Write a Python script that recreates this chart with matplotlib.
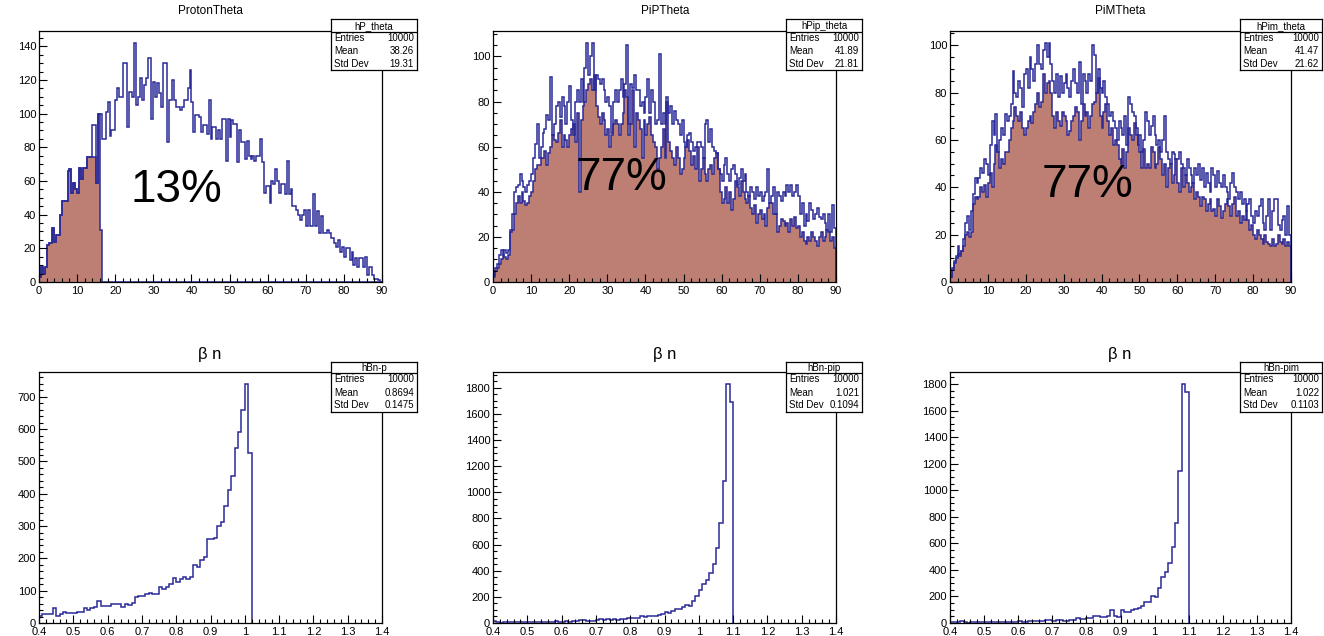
import numpy as np
import matplotlib
matplotlib.use("Agg")
import matplotlib.pyplot as plt
from matplotlib.ticker import MultipleLocator, FuncFormatter

plt.rcParams['font.family'] = ['Liberation Sans', 'DejaVu Sans']

# ---- data ----
# theta histograms: 180 bins of 0.5 deg from 0 to 90
proton_theta = [
    3, 9, 5, 9, 22, 23, 23, 32, 24, 28, 28, 40, 48, 48, 48, 66, 67, 53, 59, 55,
    53, 68, 61, 68, 68, 74, 74, 74, 93, 93, 59, 100, 100, 85, 85, 101, 107, 87, 90, 90,
    108, 115, 110, 110, 130, 130, 92, 113, 113, 110, 142, 105, 110, 121, 108, 117, 121, 133, 133, 97,
    119, 110, 118, 112, 104, 130, 130, 83, 108, 108, 120, 108, 104, 104, 102, 104, 108, 108, 115, 126,
    107, 89, 99, 99, 98, 89, 93, 93, 88, 108, 85, 92, 92, 85, 90, 85, 97, 97, 72, 97,
    86, 96, 94, 94, 71, 90, 83, 83, 73, 84, 75, 73, 75, 72, 75, 75, 85, 71, 53, 57,
    57, 47, 60, 58, 67, 60, 53, 58, 58, 52, 72, 52, 55, 45, 45, 43, 40, 37, 40, 43,
    33, 43, 33, 33, 52, 33, 42, 29, 39, 29, 29, 31, 29, 26, 26, 23, 21, 25, 18, 21,
    15, 20, 20, 13, 18, 10, 14, 9, 14, 14, 9, 15, 4, 9, 9, 4, 2, 2, 1, 0,
]
proton_theta_acc = [
    3, 9, 5, 9, 22, 23, 23, 32, 24, 28, 28, 40, 48, 48, 48, 66, 67, 53, 59, 55,
    53, 68, 61, 68, 68, 74, 74, 74, 74, 74, 59, 100, 31,
]

pip_theta = [
    3, 6, 8, 12, 14, 12, 14, 13, 14, 23, 30, 40, 42, 43, 48, 45, 42, 40, 43, 45,
    48, 55, 61, 70, 55, 60, 66, 68, 74, 72, 91, 65, 70, 78, 80, 73, 82, 78, 70, 80,
    87, 72, 65, 80, 85, 80, 90, 80, 95, 106, 92, 100, 106, 85, 92, 90, 88, 90, 85, 80,
    82, 78, 66, 80, 85, 80, 85, 90, 82, 88, 105, 70, 88, 86, 92, 85, 85, 78, 80, 75,
    82, 90, 75, 85, 80, 70, 72, 101, 70, 75, 70, 82, 75, 78, 70, 76, 72, 70, 65, 72,
    62, 60, 65, 66, 62, 58, 60, 62, 62, 60, 55, 70, 72, 62, 68, 60, 58, 57, 50, 48,
    45, 52, 55, 48, 45, 50, 52, 48, 43, 46, 50, 45, 48, 40, 38, 42, 40, 37, 42, 38,
    40, 36, 38, 40, 50, 35, 38, 42, 30, 40, 38, 36, 40, 38, 43, 40, 43, 38, 40, 43,
    38, 30, 35, 25, 30, 27, 35, 32, 28, 30, 33, 29, 28, 30, 26, 23, 30, 22, 34, 24,
]
pip_theta_acc = [
    2, 5, 6, 8, 10, 12, 11, 10, 12, 22, 23, 30, 35, 38, 35, 40, 36, 34, 35, 38,
    40, 45, 50, 52, 52, 55, 55, 58, 52, 57, 60, 65, 63, 62, 66, 72, 60, 65, 63, 60,
    65, 68, 70, 62, 75, 40, 72, 78, 80, 85, 88, 90, 85, 92, 78, 73, 70, 75, 72, 65,
    68, 60, 65, 70, 72, 70, 65, 70, 75, 85, 82, 65, 70, 85, 60, 75, 72, 68, 55, 72,
    65, 70, 73, 65, 62, 60, 50, 55, 60, 68, 55, 80, 62, 58, 55, 52, 60, 55, 48, 50,
    55, 60, 63, 58, 52, 56, 50, 60, 45, 50, 55, 48, 45, 50, 52, 48, 55, 57, 50, 40,
    35, 37, 42, 35, 40, 32, 37, 45, 42, 38, 45, 40, 37, 35, 38, 33, 30, 34, 26, 30,
    32, 28, 30, 25, 33, 35, 35, 30, 30, 22, 25, 28, 27, 25, 26, 22, 28, 25, 29, 24,
    25, 20, 22, 18, 17, 20, 18, 22, 20, 18, 16, 20, 22, 18, 20, 23, 22, 18, 20, 15,
]

pim_theta = [
    2, 6, 9, 11, 15, 12, 13, 18, 25, 28, 22, 30, 37, 44, 42, 44, 48, 46, 52, 50,
    45, 58, 68, 62, 71, 55, 60, 65, 62, 71, 68, 70, 75, 89, 80, 78, 85, 82, 74, 88,
    90, 82, 95, 90, 85, 92, 100, 92, 90, 98, 101, 95, 101, 92, 85, 80, 88, 78, 87, 80,
    84, 88, 82, 78, 85, 90, 84, 80, 93, 75, 88, 85, 80, 88, 85, 100, 96, 80, 90, 82,
    80, 85, 78, 75, 70, 72, 68, 65, 60, 68, 65, 62, 70, 58, 78, 75, 72, 70, 65, 58,
    62, 55, 60, 72, 68, 62, 66, 70, 62, 58, 60, 55, 60, 70, 55, 52, 50, 55, 54, 52,
    52, 55, 50, 48, 45, 52, 48, 45, 42, 48, 45, 50, 43, 48, 40, 46, 42, 38, 48, 45,
    40, 47, 42, 40, 45, 40, 38, 35, 42, 46, 40, 38, 35, 38, 33, 35, 30, 33, 35, 28,
    25, 30, 28, 32, 35, 25, 22, 28, 35, 22, 30, 35, 35, 24, 22, 26, 28, 20, 32, 20,
]
pim_theta_acc = [
    2, 5, 8, 10, 12, 11, 13, 15, 20, 21, 19, 21, 33, 36, 35, 36, 40, 38, 41, 36,
    42, 46, 40, 50, 58, 55, 48, 52, 50, 55, 55, 60, 65, 68, 74, 70, 68, 72, 65, 62,
    65, 68, 70, 67, 72, 75, 80, 74, 76, 88, 80, 84, 85, 80, 70, 65, 72, 68, 66, 72,
    70, 68, 62, 64, 68, 70, 74, 72, 60, 68, 75, 70, 72, 65, 70, 75, 76, 80, 86, 70,
    65, 72, 75, 68, 62, 65, 58, 60, 58, 52, 50, 56, 48, 55, 65, 62, 60, 67, 62, 58,
    55, 48, 56, 48, 50, 48, 57, 55, 48, 50, 57, 52, 45, 50, 40, 48, 50, 42, 45, 52,
    42, 38, 48, 40, 45, 42, 38, 40, 42, 35, 38, 36, 32, 36, 35, 30, 33, 35, 30, 31,
    28, 35, 32, 27, 30, 33, 35, 32, 28, 33, 36, 28, 30, 25, 28, 26, 30, 26, 22, 24,
    20, 18, 22, 20, 18, 16, 20, 17, 16, 15, 18, 15, 16, 20, 17, 16, 18, 15, 17, 15,
]

# beta n histograms: bins of 0.01 starting at 0.40
bn_p = [
    21, 29, 27, 29, 45, 21, 29, 34, 31, 31,
    31, 34, 34, 45, 41, 45, 50, 68, 52, 52,
    52, 58, 60, 60, 48, 58, 55, 62, 81, 83,
    83, 89, 93, 89, 89, 112, 104, 112, 122, 138,
    128, 135, 141, 135, 143, 180, 172, 195, 205, 259,
    259, 262, 300, 314, 361, 413, 456, 542, 592, 659,
    740, 527,
]
bn_pip = [
    12, 5, 3, 4, 5, 6, 4, 5, 8, 5,
    6, 8, 5, 8, 6, 10, 8, 10, 12, 8,
    10, 15, 10, 12, 15, 22, 20, 15, 18, 15,
    20, 30, 22, 28, 20, 28, 25, 30, 33, 38,
    40, 40, 40, 55, 45, 55, 55, 55, 60, 70,
    85, 80, 90, 105, 105, 125, 135, 130, 165, 210,
    250, 300, 330, 385, 450, 575, 765, 1090, 1830, 1690,
]
bn_pim = [
    10, 8, 10, 12, 10, 2, 5, 8, 5, 5,
    10, 6, 5, 8, 10, 5, 8, 10, 10, 8,
    12, 10, 8, 12, 15, 12, 15, 18, 22, 25,
    15, 22, 20, 18, 18, 20, 25, 35, 30, 30,
    35, 35, 55, 50, 45, 45, 50, 95, 55, 45,
    95, 80, 80, 95, 105, 115, 125, 160, 155, 205,
    195, 265, 345, 385, 450, 575, 750, 1145, 1800, 1740,
]

theta_titles = ["ProtonTheta", "PiPTheta", "PiMTheta"]
theta_names = ["hP_theta", "hPip_theta", "hPim_theta"]
theta_means = ["38.26", "41.89", "41.47"]
theta_stds = ["19.31", "21.81", "21.62"]
theta_pcts = ["13%", "77%", "77%"]

bn_names = ["hBn-p", "hBn-pip", "hBn-pim"]
bn_means = ["0.8694", "1.021", "1.022"]
bn_stds = ["0.1475", "0.1094", "0.1103"]

# ---- layout (pixels) ----
W, H = 1324, 636
LINE = "#2a2a98"
FILL = "#bd7f74"

col_x = [(39, 382), (493, 836), (950, 1291)]
title_x = [210, 665, 1120]
box_x = [(331, 417), (786, 862), (1240, 1322)]
pct_pos = [(176, 202), (621, 190), (1087, 197)]


def px_rect(x0, y0, x1, y1):
    return [x0 / W, 1 - y1 / H, (x1 - x0) / W, (y1 - y0) / H]


def style(ax, xmaj, xmin, ymaj, ymin):
    ax.xaxis.set_major_locator(MultipleLocator(xmaj))
    ax.xaxis.set_minor_locator(MultipleLocator(xmin))
    ax.yaxis.set_major_locator(MultipleLocator(ymaj))
    ax.yaxis.set_minor_locator(MultipleLocator(ymin))
    ax.xaxis.set_major_formatter(FuncFormatter(lambda v, p: f"{v:g}"))
    ax.tick_params(which="both", direction="in", top=False, right=False,
                   labelsize=8, width=0.8)
    ax.tick_params(axis="x", pad=3)
    ax.tick_params(axis="y", pad=2)
    ax.tick_params(which="major", length=6)
    ax.tick_params(which="minor", length=3)
    for s in ax.spines.values():
        s.set_linewidth(0.9)


def stats_box(x0, x1, y0, yhead, y1, name, mean, std):
    bax = fig.add_axes(px_rect(x0, y0, x1, y1))
    bax.set_xlim(x0, x1)
    bax.set_ylim(y1, y0)
    bax.set_xticks([])
    bax.set_yticks([])
    for s in bax.spines.values():
        s.set_linewidth(0.9)
    bax.axhline(yhead, color="black", lw=0.9)
    bax.text((x0 + x1) / 2, (y0 + yhead) / 2 + 0.5, name, ha="center", va="center", fontsize=7)
    step = (y1 - yhead) / 3
    rows = [("Entries", "10000"), ("Mean", mean), ("Std Dev", std)]
    for i, (lab, val) in enumerate(rows):
        yc = yhead + step * (i + 0.5)
        bax.text(x0 + 3, yc, lab, ha="left", va="center", fontsize=7)
        bax.text(x1 - 3, yc, val, ha="right", va="center", fontsize=7)


fig = plt.figure(figsize=(W / 100, H / 100), dpi=100)

theta_all = [proton_theta, pip_theta, pim_theta]
theta_acc = [proton_theta_acc, pip_theta_acc, pim_theta_acc]
theta_edges = np.linspace(0, 90, 181)

for i in range(3):
    x0, x1 = col_x[i]
    ax = fig.add_axes(px_rect(x0, 31, x1, 282))
    acc = np.zeros(180)
    acc[:len(theta_acc[i])] = theta_acc[i]
    ax.stairs(acc, theta_edges, fill=True, color=FILL, lw=0)
    ax.stairs(acc, theta_edges, color=LINE, lw=1.1)
    ax.stairs(theta_all[i], theta_edges, color=LINE, lw=1.1)
    ax.set_xlim(0, 90)
    ax.set_ylim(0, max(theta_all[i]) * 1.05)
    style(ax, 10, 2, 20, 5)
    fig.text(title_x[i] / W, 1 - 11 / H, theta_titles[i], ha="center", va="center", fontsize=8.5)
    px, py = pct_pos[i]
    fig.text(px / W, 1 - py / H, theta_pcts[i], ha="center", va="baseline", fontsize=33)
    stats_box(box_x[i][0], box_x[i][1], 19, 32, 70, theta_names[i], theta_means[i], theta_stds[i])

bn_all = [bn_p, bn_pip, bn_pim]
bn_ymaj = [100, 200, 200]
bn_ymin = [20, 50, 50]

for i in range(3):
    x0, x1 = col_x[i]
    ax = fig.add_axes(px_rect(x0, 372, x1, 623))
    vals = bn_all[i]
    edges = 0.4 + 0.01 * np.arange(len(vals) + 1)
    ax.stairs(vals, edges, color=LINE, lw=1.1)
    ax.set_xlim(0.4, 1.4)
    ax.set_ylim(0, max(vals) * 1.05)
    style(ax, 0.1, 0.02, bn_ymaj[i], bn_ymin[i])
    fig.text(title_x[i] / W, 1 - 355 / H, "β n", ha="center", va="center", fontsize=12)
    stats_box(box_x[i][0], box_x[i][1], 362, 373, 412, bn_names[i], bn_means[i], bn_stds[i])

fig.savefig("out.png", dpi=100)
